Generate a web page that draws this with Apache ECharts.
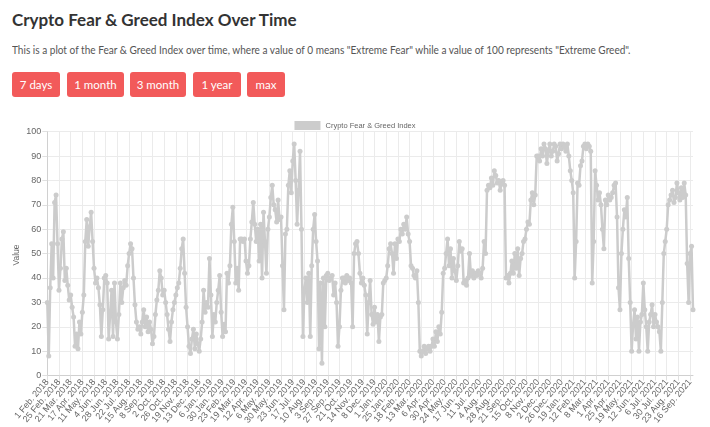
<!DOCTYPE html>
<html><head><meta charset="utf-8">
<script src="https://cdn.jsdelivr.net/npm/echarts@6/dist/echarts.min.js"></script>
<style>
body{margin:0;background:#fff;width:710px;height:427px;overflow:hidden;font-family:Lato,"Open Sans",sans-serif;}
h1{position:absolute;left:12px;top:9px;margin:0;font-size:17px;font-weight:700;color:#333;letter-spacing:0;}
p.desc{position:absolute;left:12px;top:43px;margin:0;font-size:11.5px;color:#555;white-space:nowrap;transform:scaleX(0.875);transform-origin:0 0;}
.btn{position:absolute;top:72px;height:25px;line-height:25px;text-align:center;background:#f25a5a;color:#fff;border-radius:3px;font-size:11.5px;}
#chart{position:absolute;left:0;top:105px;width:710px;height:322px;}
</style></head>
<body>
<h1>Crypto Fear &amp; Greed Index Over Time</h1>
<p class="desc">This is a plot of the Fear &amp; Greed Index over time, where a value of 0 means "Extreme Fear" while a value of 100 represents "Extreme Greed".</p>
<div class="btn" style="left:12px;width:48px">7 days</div>
<div class="btn" style="left:67px;width:57px">1 month</div>
<div class="btn" style="left:130px;width:56px">3 month</div>
<div class="btn" style="left:193px;width:48px">1 year</div>
<div class="btn" style="left:247px;width:38px">max</div>
<div id="chart"></div>
<script>
// Sampling: one point every 3 days from 1 Feb 2018 (source data has a gap 14-16 Apr 2018)
const seriesName = 'Crypto Fear & Greed Index';
const yAxisTitle = 'Value';
const startDate = '2018-02-01';
const stepDays = 3;
const gapAfterDate = '2018-04-11'; // next point is 17 Apr 2018
const monthNames = ['Jan','Feb','Mar','Apr','May','Jun','Jul','Aug','Sep','Oct','Nov','Dec'];
const yTicks = [0,10,20,30,40,50,60,70,80,90,100];
const values = [
30,8,36,54,40,71,74,54,
35,44,56,59,39,44,37,31,
33,28,24,12,17,11,22,17,
26,33,55,64,53,61,67,55,
44,38,40,36,29,16,27,40,
41,38,15,25,35,16,38,22,
15,25,38,30,36,39,37,45,
50,54,52,40,29,22,19,20,
17,22,27,20,24,18,22,19,
13,16,25,31,35,43,40,33,
35,30,25,19,14,22,27,30,
33,36,38,44,52,56,42,28,
20,12,9,15,19,11,17,13,
10,15,22,35,26,30,28,48,
33,16,25,22,30,35,41,26,
16,21,18,42,38,45,62,69,
55,38,44,35,56,56,55,56,
47,42,45,56,63,71,62,55,
60,47,62,40,67,55,42,60,
65,73,78,70,68,63,72,64,
65,45,27,58,60,78,84,75,
88,95,80,62,76,92,60,16,
35,40,30,42,16,45,60,66,
55,47,11,38,5,40,20,41,
42,39,40,41,33,38,30,12,
20,35,40,40,38,41,39,40,
38,20,50,54,55,50,42,38,
40,37,33,17,30,39,25,21,
28,22,25,14,24,25,38,39,
40,45,52,54,50,42,54,48,
56,55,60,58,62,60,65,58,
55,45,44,41,40,43,30,10,
8,10,12,9,11,12,10,12,
15,12,18,14,20,17,26,42,
44,50,56,45,52,40,48,43,
39,45,55,51,52,38,39,37,
40,50,41,43,40,42,41,43,
42,40,44,55,50,76,78,77,
81,78,84,82,79,80,76,79,
80,78,40,41,38,42,47,42,
50,44,52,41,48,50,55,56,
60,63,62,72,75,70,74,90,
90,88,93,90,95,93,87,92,
95,90,92,95,94,88,91,95,
93,95,94,92,95,90,84,80,
75,40,55,79,78,86,88,94,
95,93,95,94,92,38,55,84,
78,72,75,70,60,52,72,70,
74,72,73,75,78,79,65,36,
27,50,60,68,65,73,48,30,
10,21,27,15,24,10,22,25,
38,27,20,10,22,25,29,20,
25,22,20,18,10,30,50,55,
60,70,72,74,76,71,73,79,
75,72,77,73,79,74,46,30,
50,53,27
];

function fmt(d){return d.getUTCDate()+' '+monthNames[d.getUTCMonth()]+'. '+d.getUTCFullYear();}
const categories = [];
{
  let d = new Date(startDate+'T00:00:00Z');
  const gap = new Date(gapAfterDate+'T00:00:00Z').getTime();
  for (let i=0;i<values.length;i++){
    categories.push(fmt(d));
    const wasGap = d.getTime()===gap;
    d = new Date(d.getTime() + (wasGap?6:stepDays)*86400000);
  }
}

const chart = echarts.init(document.getElementById('chart'));
chart.setOption({
  animation:false,
  textStyle:{fontFamily:'"Liberation Sans", Arial, sans-serif'},
  legend:{
    data:[{name:seriesName, icon:'rect'}],
    top:11, left:'center', itemWidth:26, itemHeight:9, itemGap:6,
    textStyle:{fontSize:7.5,color:'#666'},
    itemStyle:{color:'#cccccc'}
  },
  graphic:[{
    type:'text', x:17, y:150, rotation:Math.PI/2,
    style:{text:yAxisTitle, fill:'#666', fontSize:8.5, fontFamily:'"Liberation Sans", Arial, sans-serif', align:'center', verticalAlign:'middle'}
  }],
  grid:{left:47.3, right:17, top:26.7, bottom:50.3, containLabel:false},
  xAxis:{
    type:'category', data:categories, boundaryGap:false,
    axisLine:{show:true, lineStyle:{color:'#d0d0d0'}},
    axisTick:{show:true, interval:7, length:5, lineStyle:{color:'#e0e0e0'}},
    splitLine:{show:true, interval:7, lineStyle:{color:'#ebebeb'}},
    axisLabel:{interval:7, rotate:50, fontSize:9, color:'#666', margin:5}
  },
  yAxis:{
    type:'value', min:yTicks[0], max:yTicks[yTicks.length-1], interval:10,
    axisLine:{show:true, lineStyle:{color:'#d0d0d0'}},
    axisTick:{show:true, length:5, lineStyle:{color:'#e0e0e0'}},
    splitLine:{show:true, lineStyle:{color:'#ebebeb'}},
    axisLabel:{fontSize:9, color:'#666', margin:6}
  },
  series:[{
    name:seriesName, type:'line', data:values,
    symbol:'circle', symbolSize:5, showSymbol:true, showAllSymbol:true,
    lineStyle:{color:'#cccccc', width:2.5},
    itemStyle:{color:'#cccccc'}
  }]
});
</script>
</body></html>
